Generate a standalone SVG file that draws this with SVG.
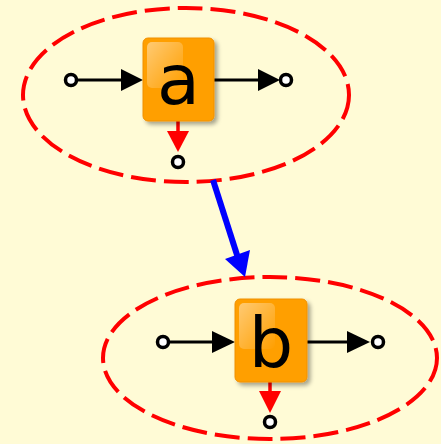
<svg xmlns="http://www.w3.org/2000/svg" width="441" height="444" viewBox="0 0 441 444">
<defs>
<style>
.grp{fill:none;stroke:#ff0000;stroke-width:4;stroke-dasharray:25 8}
.box{fill:#ff9f00;stroke:#f09000;stroke-width:1}
.hl{fill:url(#gloss)}
.lbl{font-family:"DejaVu Sans",sans-serif;font-size:70px;fill:#000;text-anchor:middle}
.port{fill:#fff;stroke:#000;stroke-width:3.5}
.blk{stroke:#000;stroke-width:3;fill:none}
.red{stroke:#ff0000;stroke-width:3.5;fill:none}
.blue{stroke:#0000ff;stroke-width:6;fill:none}
</style>
<linearGradient id="gloss" x1="0" y1="0" x2="1" y2="1">
<stop offset="0" stop-color="#ffffff" stop-opacity="0.45"/>
<stop offset="1" stop-color="#ffffff" stop-opacity="0"/>
</linearGradient>
<filter id="sh" x="-20%" y="-20%" width="150%" height="150%">
<feDropShadow dx="3" dy="3" stdDeviation="2" flood-color="#000" flood-opacity="0.35"/>
</filter>
</defs>
<rect width="441" height="444" fill="#fffbd6"/>
<g id="groupA">
<ellipse class="grp" cx="186" cy="95" rx="163" ry="87"/>
</g>
<g id="groupB">
<ellipse class="grp" cx="270" cy="358" rx="167" ry="81"/>
</g>
<g id="connectors">
<line class="blk" x1="76" y1="80" x2="124" y2="80"/>
<polygon points="121,69 143,80 121,91" fill="#000"/>
<line class="blk" x1="214" y1="80" x2="261" y2="80"/>
<polygon points="258,69 280,80 258,91" fill="#000"/>
<line class="red" x1="178" y1="121" x2="178" y2="134"/>
<polygon points="167,131 189,131 178,152" fill="#ff0000"/>
<line class="blk" x1="168" y1="342" x2="215" y2="342"/>
<polygon points="212,331 235,342 212,353" fill="#000"/>
<line class="blk" x1="307" y1="342" x2="350" y2="342"/>
<polygon points="347,331 370,342 347,353" fill="#000"/>
<line class="red" x1="270" y1="382" x2="270" y2="394"/>
<polygon points="259,391 281,391 270,413" fill="#ff0000"/>
<line class="blue" x1="213" y1="180" x2="238" y2="258"/>
<polygon points="225,259 250,250 245,277" fill="#0000ff"/>
</g>
<g id="a">
<rect class="box" x="143" y="38" width="71" height="83" rx="5" filter="url(#sh)"/>
<rect class="hl" x="147" y="42" width="36" height="46" rx="5"/>
<text class="lbl" x="178.5" y="104">a</text>
</g>
<g id="b">
<rect class="box" x="235" y="299" width="72" height="83" rx="5" filter="url(#sh)"/>
<rect class="hl" x="239" y="303" width="36" height="46" rx="5"/>
<text class="lbl" x="271" y="367">b</text>
</g>
<g id="ports">
<circle class="port" cx="71" cy="80" r="5.5"/>
<circle class="port" cx="286" cy="80" r="5.5"/>
<circle class="port" cx="178" cy="162" r="5.5"/>
<circle class="port" cx="163" cy="342" r="5.5"/>
<circle class="port" cx="378" cy="342" r="5.5"/>
<circle class="port" cx="270" cy="422" r="5.5"/>
</g>
</svg>
